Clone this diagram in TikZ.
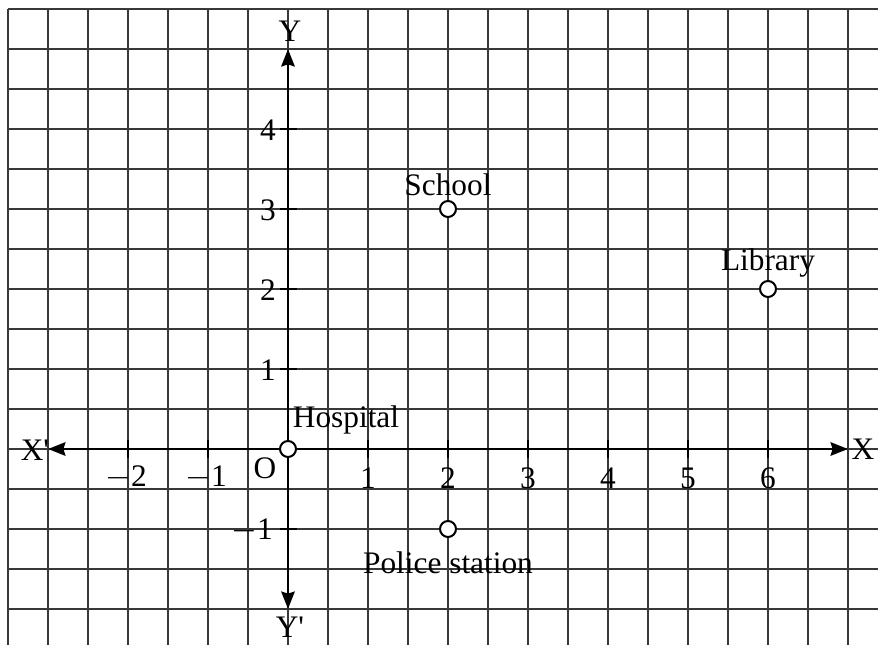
\documentclass[tikz,border=0pt]{standalone}
\usepackage{fontspec}
\setmainfont{Liberation Serif}
\newfontfamily\plainserif{Liberation Serif}
\usetikzlibrary{arrows.meta}
\begin{document}
\begin{tikzpicture}[x=0.75pt,y=-0.75pt,
  gridline/.style={draw=black!78,line width=1.3pt},
  axisline/.style={draw=black,line width=2.2pt,{Stealth[length=13pt,width=10pt,inset=1.5pt]}-{Stealth[length=13pt,width=10pt,inset=1.5pt]}},
  tickmark/.style={draw=black,line width=1.6pt},
  lbl/.style={font=\fontsize{23.5}{28}\selectfont,inner sep=0pt},
  place/.style={circle,draw=black,fill=white,line width=1.5pt,minimum size=12pt,inner sep=0pt}]
\useasboundingbox (0,0) rectangle (878,645);
\fill[white] (0,0) rectangle (878,645);
% grid
\foreach \i in {0,...,21} \draw[gridline] (8+40*\i,9) -- (8+40*\i,645);
\foreach \j in {0,...,15} \draw[gridline] (8,9+40*\j) -- (878,9+40*\j);
% axes
\coordinate (xl) at (48,449);
\coordinate (xr) at (848,449);
\coordinate (yt) at (288,49);
\coordinate (yb) at (288,609);
\draw[axisline] (xl) -- (xr);
\draw[axisline] (yb) -- (yt);
% ticks
\foreach \v in {-2,-1,1,2,3,4,5,6} {
  \draw[tickmark] (288+80*\v,440) -- (288+80*\v,458);
}
\foreach \v in {1,2,3,4,-1} {
  \draw[tickmark] (280,449-80*\v) -- (297,449-80*\v);
}
% tick labels
\node[lbl] (tm2) at (126,478) {$-$2};
\node[lbl] (tm1) at (206,478) {$-$1};
\node[lbl] (t1) at (368,478) {1};
\node[lbl] (t2) at (448,478) {2};
\node[lbl] (t3) at (528,478) {3};
\node[lbl] (t4) at (608,478) {4};
\node[lbl] (t5) at (688,478) {5};
\node[lbl] (t6) at (768,478) {6};
\node[lbl,anchor=east] (y4) at (276,130) {4};
\node[lbl,anchor=east] (y3) at (276,210) {3};
\node[lbl,anchor=east] (y2) at (276,290) {2};
\node[lbl,anchor=east] (y1) at (276,370) {1};
\node[lbl,anchor=east] (ym1) at (273,531) {$-$1};
\node[lbl] (O) at (265,468) {O};
\node[lbl] (X) at (863,449) {X};
\node[lbl] (Xp) at (35,450) {\plainserif X'};
\node[lbl] (Y) at (290,31) {Y};
\node[lbl] (Yp) at (290,627) {\plainserif Y'};
% places
\node[place] (hosp) at (288,449) {};
\node[place] (school) at (448,209) {};
\node[place] (lib) at (768,289) {};
\node[place] (police) at (448,529) {};
\node[lbl] (hospl) at (346,420) {Hospital};
\node[lbl] (schooll) at (448,185) {School};
\node[lbl] (libl) at (768,263) {Library};
\node[lbl] (policel) at (448,563) {Police station};
\end{tikzpicture}
\end{document}
